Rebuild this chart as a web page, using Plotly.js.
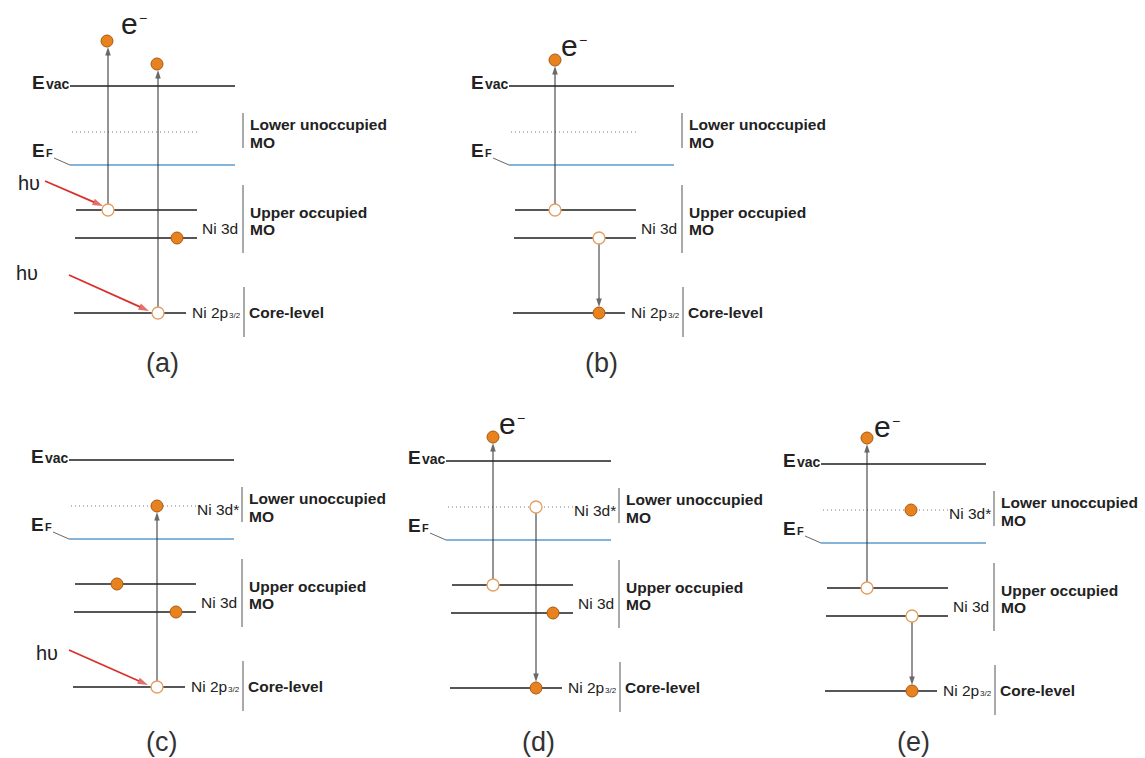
<!DOCTYPE html>
<html>
<head>
<meta charset="utf-8">
<script src="https://cdn.plot.ly/plotly-3.0.1.min.js"></script>
<style>html,body{margin:0;padding:0;background:#fff;}</style>
</head>
<body>
<div id="chart" style="width:1145px;height:758px;"></div>
<script>
// ================= DATA =================
const panelLabels = ['(a)', '(b)', '(c)', '(d)', '(e)'];

// Energy levels (arbitrary units above the Ni 2p3/2 core level)
const levelNames  = ['core', 'd3d_low', 'd3d_high', 'EF', 'LUMO', 'Evac'];
const levelEnergy = [0, 75, 103, 148, 181, 227];

// Electrons per panel: position along the level, energy, filled (1) or hole (0)
const elecX_a = [107, 157, 108, 177, 158];
const elecE_a = [272, 249, 103, 75, 0];
const elecF_a = [1, 1, 0, 1, 0];

const elecX_b = [116, 116, 160, 160];
const elecE_b = [253, 103, 75, 0];
const elecF_b = [1, 0, 0, 1];

const elecX_c = [158, 118, 177, 158];
const elecE_c = [181, 103, 75, 0];
const elecF_c = [1, 1, 1, 0];

const elecX_d = [117, 160, 117, 177, 160];
const elecE_d = [251, 181, 103, 75, 0];
const elecF_d = [1, 0, 0, 1, 1];

const elecX_e = [116, 160, 116, 161, 161];
const elecE_e = [253, 181, 103, 75, 0];
const elecF_e = [1, 1, 0, 0, 1];

// Electron transitions per panel: x, from energy, to energy
const trX_a = [108, 158]; const trFrom_a = [103, 0];   const trTo_a = [272, 249];
const trX_b = [116, 160]; const trFrom_b = [103, 75];  const trTo_b = [253, 0];
const trX_c = [158];      const trFrom_c = [0];        const trTo_c = [181];
const trX_d = [117, 160]; const trFrom_d = [103, 181]; const trTo_d = [251, 0];
const trX_e = [116, 161]; const trFrom_e = [103, 75];  const trTo_e = [253, 0];

// Incoming photons (hυ): start x, start energy, end x, end energy
const phX0_a = [45, 69];   const phE0_a = [132, 38]; const phX1_a = [103, 149]; const phE1_a = [107, 2];
const phX0_c = [70];       const phE0_c = [37];      const phX1_c = [149];      const phE1_c = [2];

// ================= LAYOUT GEOMETRY =================
const panelX0 = [0, 439, -1, 376, 751];
const panelY0 = [445, 445, 71, 70, 67];
const panelLabelE = [-50, -50, -55, -54, -51];
const levelX0 = [74, 75, 76, 70, 72, 70];
const levelX1 = [186, 197, 197, 235, 198, 235];
const showLumoLabel = [false, false, true, true, true];
const eLabelX = [120, 121, 122, 122, 122];
const eLabelE = [290, 268, 265, 265, 265];
const dotR = 6;

const panelsElec = [
  [elecX_a, elecE_a, elecF_a], [elecX_b, elecE_b, elecF_b], [elecX_c, elecE_c, elecF_c],
  [elecX_d, elecE_d, elecF_d], [elecX_e, elecE_e, elecF_e]];
const panelsTr = [
  [trX_a, trFrom_a, trTo_a], [trX_b, trFrom_b, trTo_b], [trX_c, trFrom_c, trTo_c],
  [trX_d, trFrom_d, trTo_d], [trX_e, trFrom_e, trTo_e]];
const panelsPh = [[phX0_a, phE0_a, phX1_a, phE1_a], null, [phX0_c, phE0_c, phX1_c, phE1_c], null, null];

const FONT = 'Liberation Sans, Arial, Helvetica, sans-serif';
const TXT = '#222';

const X = (p, x) => panelX0[p] + x;
const Y = (p, e) => panelY0[p] + e;

const shapes = [];
const annotations = [];
const arrowTraces = [];
const fill = {x: [], y: []};
const hole = {x: [], y: []};

function txt(p, x, e, text, size, xanchor, color) {
  annotations.push({
    x: X(p, x), y: Y(p, e), xref: 'x', yref: 'y', text: text, showarrow: false,
    xanchor: xanchor, yanchor: 'middle', borderpad: 0,
    font: {family: FONT, size: size, color: color || TXT}
  });
}
function line(x0, y0, x1, y1, color, width, dash) {
  shapes.push({type: 'line', xref: 'x', yref: 'y', x0: x0, y0: y0, x1: x1, y1: y1, layer: 'below',
    line: {color: color, width: width, dash: dash || 'solid'}});
}
function arrow(x0, y0, x1, y1, color, width, head) {
  arrowTraces.push({x: [x0, x1], y: [y0, y1], type: 'scatter', mode: 'lines+markers',
    hoverinfo: 'skip', cliponaxis: false,
    line: {color: color, width: width},
    marker: {symbol: 'arrow', size: [0, head], angleref: 'previous', color: color, line: {width: 0}}});
}

for (let p = 0; p < 5; p++) {
  // energy levels
  levelNames.forEach((nm, i) => {
    const E = levelEnergy[i];
    let col = '#1e1e1e', w = 1.6, dash = 'solid';
    if (nm === 'EF') { col = '#5d9bcf'; w = 1.6; }
    if (nm === 'LUMO') { col = '#7a7a7a'; w = 1; dash = '1px,3px'; }
    line(X(p, levelX0[i]), Y(p, E), X(p, levelX1[i]), Y(p, E), col, w, dash);
  });
  // EF leader
  line(X(p, 54), Y(p, 155), X(p, 70), Y(p, 148), '#666', 1);
  // group bars
  line(X(p, 243), Y(p, 165), X(p, 243), Y(p, 200), '#555', 1);
  line(X(p, 243), Y(p, 60), X(p, 243), Y(p, 128), '#555', 1);
  line(X(p, 244), Y(p, -24), X(p, 244), Y(p, 26), '#555', 1);

  // labels
  txt(p, 46, 231, '<b>E</b>', 19, 'right');
  txt(p, 45, 229, '<b>vac</b>', 14, 'left');
  txt(p, 46, 163, '<b>E</b>', 19, 'right');
  txt(p, 45, 160, '<b>F</b>', 11, 'left');
  txt(p, 249, 189, '<b>Lower unoccupied</b>', 15.5, 'left');
  txt(p, 249, 171, '<b>MO</b>', 15.5, 'left');
  txt(p, 249, 101, '<b>Upper occupied</b>', 15.5, 'left');
  txt(p, 249, 84, '<b>MO</b>', 15.5, 'left');
  txt(p, 239, 85, 'Ni 3d', 15.5, 'right');
  txt(p, 191, 1, 'Ni 2p', 15.5, 'left');
  txt(p, 228, -2, '3/2', 8, 'left');
  txt(p, 248, 1, '<b>Core-level</b>', 15.5, 'left');
  if (showLumoLabel[p]) txt(p, 241, 178, 'Ni 3d*', 15.5, 'right');
  txt(p, 162, panelLabelE[p], panelLabels[p], 27, 'center', '#333');
  if (p !== 2) {
    txt(p, eLabelX[p], eLabelE[p], 'e', 30, 'left');
    txt(p, eLabelX[p] + 18, eLabelE[p] + 5, '−', 14, 'left');
  }

  // electrons
  const [ex, ee, ef] = panelsElec[p];
  ex.forEach((x, k) => {
    const tgt = ef[k] ? fill : hole;
    tgt.x.push(X(p, x)); tgt.y.push(Y(p, ee[k]));
  });

  // transitions
  const [tx, tf, tt] = panelsTr[p];
  tx.forEach((x, k) => {
    const up = tt[k] > tf[k];
    const fromE = tf[k] + (up ? dotR : -dotR);
    const toE = tt[k] + (up ? -dotR : dotR);
    arrow(X(p, x), Y(p, fromE), X(p, x), Y(p, toE), '#2a2a2a', 1, 9);
  });

  // photons
  if (panelsPh[p]) {
    const [x0, e0, x1, e1] = panelsPh[p];
    x0.forEach((x, k) => {
      arrow(X(p, x), Y(p, e0[k]), X(p, x1[k]), Y(p, e1[k]), '#d9302c', 1.8, 11);
    });
  }
}
// hυ labels
txt(0, 29, 130, 'hυ', 20, 'center');
txt(0, 27, 40, 'hυ', 20, 'center');
txt(2, 48, 34, 'hυ', 20, 'center');

const traces = arrowTraces.concat([
  {x: fill.x, y: fill.y, type: 'scatter', mode: 'markers', hoverinfo: 'skip', cliponaxis: false,
   marker: {size: 12, color: '#e8821e', line: {color: '#a65a16', width: 1}}},
  {x: hole.x, y: hole.y, type: 'scatter', mode: 'markers', hoverinfo: 'skip', cliponaxis: false,
   marker: {size: 12, color: '#ffffff', line: {color: '#e0a062', width: 1.3}}}
]);

const layout = {
  width: 1145, height: 758, margin: {l: 0, r: 0, t: 0, b: 0},
  paper_bgcolor: '#fff', plot_bgcolor: '#fff', showlegend: false,
  xaxis: {range: [0, 1145], visible: false, fixedrange: true},
  yaxis: {range: [0, 758], visible: false, fixedrange: true},
  shapes: shapes, annotations: annotations
};
Plotly.newPlot('chart', traces, layout, {displayModeBar: false, staticPlot: true});
</script>
</body>
</html>
